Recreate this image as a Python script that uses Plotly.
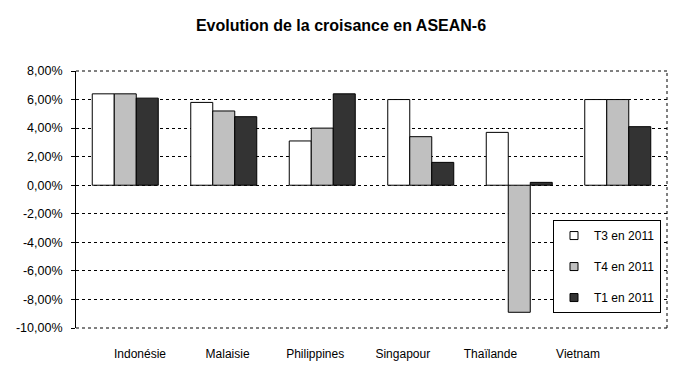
import plotly.graph_objects as go

categories = ["Indonésie", "Malaisie", "Philippines", "Singapour", "Thaïlande", "Vietnam"]
series_names = ["T3 en 2011", "T4 en 2011", "T1 en 2011"]
t3_2011 = [6.4, 5.8, 3.1, 6.0, 3.7, 6.0]
t4_2011 = [6.4, 5.2, 4.0, 3.4, -8.9, 6.0]
t1_2011 = [6.1, 4.8, 6.4, 1.6, 0.2, 4.1]
tick_vals = [-10, -8, -6, -4, -2, 0, 2, 4, 6, 8]
tick_text = ["-10,00%", "-8,00%", "-6,00%", "-4,00%", "-2,00%",
             "0,00%", "2,00%", "4,00%", "6,00%", "8,00%"]
colors = ["#FFFFFF", "#C0C0C0", "#333333"]

FONT = "Liberation Sans, Arial, sans-serif"
DASH = "3px,3px"

fig = go.Figure()
for name, vals, col in zip(series_names, [t3_2011, t4_2011, t1_2011], colors):
    fig.add_trace(go.Bar(
        x=categories, y=vals, name=name, showlegend=False,
        marker=dict(color=col, line=dict(color="black", width=1)),
    ))
# legend entries (small square swatches)
for name, col in zip(series_names, colors):
    fig.add_trace(go.Scatter(
        x=[None], y=[None], name=name, mode="markers", legendgroup=name,
        marker=dict(symbol="square", size=8, color=col, line=dict(color="black", width=1)),
    ))
# invisible trace carrying the category labels
fig.add_trace(go.Scatter(
    x=categories, y=[0] * len(categories), xaxis="x2", mode="markers",
    marker=dict(opacity=0), hoverinfo="skip", showlegend=False,
))

border = dict(color="black", width=1, dash=DASH)
fig.update_layout(
    width=682, height=383,
    margin=dict(l=76, r=15, t=71, b=55),
    paper_bgcolor="white", plot_bgcolor="white",
    font=dict(family=FONT, size=12, color="black"),
    title=dict(text="<b>Evolution de la croisance en ASEAN-6</b>",
               x=0.5, xanchor="center", xref="container",
               y=1 - 25 / 383, yanchor="middle", yref="container",
               font=dict(size=16, family=FONT, color="black")),
    barmode="group", bargap=0.33, bargroupgap=0,
    xaxis=dict(showticklabels=False, showgrid=False, showline=False, ticks="",
               zeroline=False),
    xaxis2=dict(overlaying="x", anchor="y", side="bottom", type="category",
                range=[-0.7306, 6.016], showgrid=False, showline=False,
                zeroline=False, ticks="", ticklabelstandoff=17,
                tickfont=dict(size=12, family=FONT, color="black")),
    yaxis=dict(range=[-10, 8], tickvals=tick_vals, ticktext=tick_text,
               showgrid=True, gridcolor="black", griddash=DASH, gridwidth=1,
               zeroline=False, showline=True, linecolor="black", linewidth=1,
               ticks="outside", ticklen=4, tickcolor="black", ticklabelstandoff=6,
               tickfont=dict(size=12.5, family=FONT, color="black")),
    legend=dict(x=0.8985, y=0.42, xanchor="center", yanchor="top",
                bordercolor="black", borderwidth=1, bgcolor="white",
                tracegroupgap=12, font=dict(size=12, family=FONT, color="black"),
                itemwidth=30),
    shapes=[
        dict(type="line", xref="paper", yref="paper", x0=1, x1=1, y0=0, y1=1, line=border),
        dict(type="line", xref="paper", yref="paper", x0=0, x1=1, y0=1, y1=1, line=border),
        dict(type="line", xref="paper", yref="paper", x0=0, x1=1, y0=0, y1=0, line=border),
    ],
)

fig.write_html("out.html")
